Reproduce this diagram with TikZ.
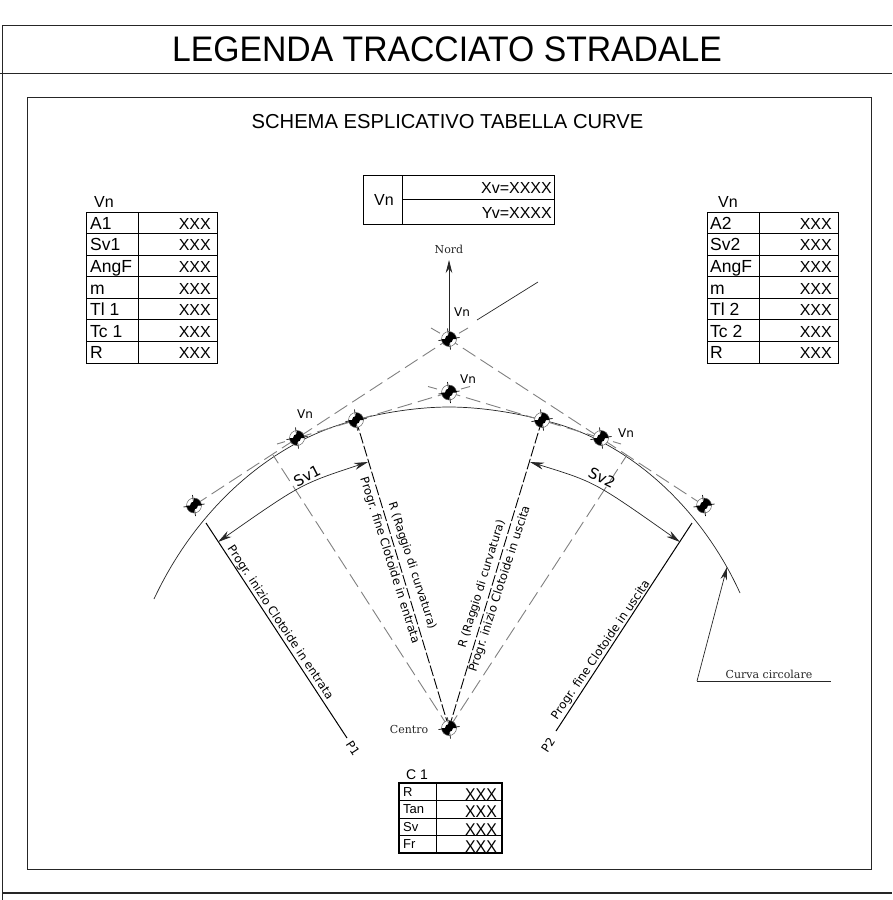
\documentclass[tikz,border=0pt]{standalone}
\usepackage{fontspec}
\setmainfont{Liberation Sans}
\newfontfamily\djs{DejaVu Sans}
\newfontfamily\djr{DejaVu Serif}
\usetikzlibrary{arrows.meta}
\newcommand{\fsz}[1]{\fontsize{#1}{#1}\selectfont}
\tikzset{
  x=1pt,y=-1pt,
  frame/.style={draw=black!85,line width=0.9pt},
  grid/.style={draw=black,line width=0.9pt},
  gd/.style={draw=black!50,line width=0.9pt,dash pattern=on 15pt off 6pt},
  gs/.style={draw=black!50,line width=0.9pt},
  bd/.style={draw=black,line width=0.9pt,dash pattern=on 11pt off 2.5pt},
  solid1/.style={draw=black,line width=1pt},
  thin1/.style={draw=black!85,line width=0.7pt},
  tip/.style={-{Stealth[length=13pt,width=6.5pt]}},
  tips/.style={{Stealth[length=14pt,width=7pt]}-{Stealth[length=14pt,width=7pt]}},
  mk/.style={circle,draw=black!60,line width=0.5pt,minimum size=15pt,inner sep=0pt,fill=white,
    path picture={
      \fill[black] (path picture bounding box.center) -- ++(-9,0) arc[start angle=180,end angle=90,radius=9] -- cycle;
      \fill[black] (path picture bounding box.center) -- ++(9,0) arc[start angle=0,end angle=-90,radius=9] -- cycle;
      \fill[black] (path picture bounding box.center) circle[radius=4];
    }},
  tb/.style={inner sep=0pt,anchor=base west,font=\fsz{17.5}},
  tv/.style={inner sep=0pt,anchor=base east,font=\fsz{16}},
  ctv/.style={inner sep=0pt,anchor=base east,font=\fsz{17}},
  rl/.style={inner sep=0pt,font=\djs\fsz{11.7}},
  rr/.style={inner sep=0pt,font=\djs\fsz{11.4}},
  vn/.style={inner sep=0pt,font=\djs\fsz{12}},
  sv/.style={inner sep=0pt,font=\djs\fsz{15}},
  sr/.style={inner sep=0pt,text=black!85,font=\djr\fsz{11}}
}
\newcommand{\mkr}[2]{%
  \node[mk] (#1) at (#2) {};
  \draw[black,line width=0.7pt] ([shift={(-1.5,-10.5)}]#1.center) -- ([shift={(1.5,10.5)}]#1.center);
  \draw[black,line width=0.7pt] ([shift={(-10.5,1.5)}]#1.center) -- ([shift={(10.5,-1.5)}]#1.center);
}
\begin{document}
\begin{tikzpicture}
\useasboundingbox (0,0) rectangle (892,900);
% frames
\draw[frame] (892,25) -- (2.5,25) -- (2.5,900);
\draw[frame] (0,73) -- (892,73);
\draw[frame,line width=1.1pt] (2.5,893) -- (892,893);
\draw[frame] (27,97.5) rectangle (871,869.5);
\node[inner sep=0pt,font=\fsz{35.5}] (title) at (447,49.5) {\scalebox{0.95}[1]{LEGENDA TRACCIATO STRADALE}};
\node[inner sep=0pt,font=\fsz{20.2}] (sub) at (447.5,122) {SCHEMA ESPLICATIVO TABELLA CURVE};

% top table
\draw[grid] (363,175) rectangle (554,224);
\draw[grid] (402,175) -- (402,224);
\draw[grid] (402,199.5) -- (554,199.5);
\node[inner sep=0pt,font=\fsz{16}] (tv) at (384,200) {Vn};
\node[tv] (tx) at (552,193) {Xv=XXXX};
\node[tv] (ty) at (552,218) {Yv=XXXX};

% left table
\node[tb,font=\fsz{16}] (lh) at (94,207) {Vn};
\draw[grid] (86,212) rectangle (217,363);
\draw[grid] (138,212) -- (138,363);
\foreach \i/\a/\v in {0/A1/XXX,1/Sv1/XXX,2/AngF/XXX,3/m/XXX,4/Tl 1/XXX,5/Tc 1/XXX,6/R/XXX}{
  \pgfmathsetmacro{\yb}{212+21.57*\i}
  \pgfmathsetmacro{\yt}{\yb+17.3}
  \ifnum\i>0 \draw[grid] (86,\yb) -- (217,\yb);\fi
  \node[tb] (la\i) at (90,\yt) {\a};
  \node[tv] (lv\i) at (211,\yt) {\v};
}
% right table
\node[tb,font=\fsz{16}] (rh) at (718,207) {Vn};
\draw[grid] (707,212) rectangle (838,363);
\draw[grid] (759,212) -- (759,363);
\foreach \i/\a/\v in {0/A2/XXX,1/Sv2/XXX,2/AngF/XXX,3/m/XXX,4/Tl 2/XXX,5/Tc 2/XXX,6/R/XXX}{
  \pgfmathsetmacro{\yb}{212+21.57*\i}
  \pgfmathsetmacro{\yt}{\yb+17.3}
  \ifnum\i>0 \draw[grid] (707,\yb) -- (838,\yb);\fi
  \node[tb] (ra\i) at (710,\yt) {\a};
  \node[tv] (rv\i) at (832,\yt) {\v};
}
% bottom table
\node[inner sep=0pt,font=\fsz{14}] (ch) at (417,775) {C 1};
\draw[grid,line width=1.1pt] (399,783) rectangle (502,853);
\draw[grid] (436,783) -- (436,853);
\foreach \i/\a/\v in {0/R/XXX,1/Tan/XXX,2/Sv/XXX,3/Fr/XXX}{
  \pgfmathsetmacro{\yb}{783+17.5*\i}
  \pgfmathsetmacro{\yt}{\yb+13}
  \pgfmathsetmacro{\yv}{\yb+17}
  \ifnum\i>0 \draw[grid] (399,\yb) -- (502,\yb);\fi
  \node[inner sep=0pt,anchor=base west,font=\fsz{13}] (ca\i) at (403,\yt) {\a};
  \node[ctv] (cv\i) at (497,\yv) {\scalebox{0.93}[1]{\v}};
}

% curve
\draw[thin1] (154,599) .. controls (198,505) and (275,440) .. (356,420)
  .. controls (385,412) and (420,407) .. (449,407)
  .. controls (478,407) and (513,412) .. (542,420)
  .. controls (625,438) and (700,505) .. (740,593);

% coordinates
\coordinate (rl) at (273,455);
\coordinate (rrr) at (627,455);
\coordinate (p1a) at (206,523);
\coordinate (p1b) at (347,738);
\coordinate (p2a) at (692,523);
\coordinate (p2b) at (556,731);
\coordinate (sa1) at (218,542);
\coordinate (sb1) at (368,462);
\coordinate (sa2) at (530,462);
\coordinate (sb2) at (680,542);
\coordinate (n1) at (449,260);
\coordinate (w1) at (477,320);
\coordinate (w2) at (538,282);
\coordinate (cc1) at (697,681);
\coordinate (cc2) at (727,567);
\coordinate (cc3) at (831,681);
\coordinate (ctr) at (449,728);
\coordinate (m1c) at (194,505.5);
\coordinate (m2c) at (297,438);
\coordinate (m3c) at (356,420);
\coordinate (m4c) at (449,339);
\coordinate (m5c) at (449,392.5);
\coordinate (m6c) at (542,420);
\coordinate (m7c) at (601,438);
\coordinate (m8c) at (704,505.5);

% dashed gray
\draw[gd] (m1c) -- (m4c);
\draw[gd] (m8c) -- (m4c);
\draw[gd] (m2c) -- (m5c);
\draw[gd] (m7c) -- (m5c);
\draw[gs] (431,328) -- (440,333.2);
\draw[gs] (468,328) -- (459,333.2);
\draw[gs] (428,386.5) -- (437,389);
\draw[gs] (470,386.5) -- (461,389);
\draw[gs] (277,444) -- (285,441.6);
\draw[gs] (621,444) -- (613,441.6);
\draw[gd] (ctr) -- (rl);
\draw[gd] (ctr) -- (rrr);
% black dashed
\draw[bd] (m3c) -- (ctr);
\draw[bd] (m6c) -- (ctr);
% P lines
\draw[solid1] (p1a) -- (p1b);
\draw[solid1] (p2a) -- (p2b);
% Sv arcs
\draw[thin1,tips] (sa1) .. controls (301,484) .. (sb1);
\draw[thin1,tips] (sa2) .. controls (595,482) .. (sb2);
% north
\draw[thin1,tip] (m4c) -- (n1);
\draw[thin1] (w1) -- (w2);
% curva circolare
\draw[thin1,tip] (cc1) -- (cc2);
\draw[thin1] (cc1) -- (cc3);

% markers
\mkr{m1}{194,505.5}
\mkr{m2}{297,438}
\mkr{m3}{356,420}
\mkr{m4}{449,339}
\mkr{m5}{449,392.5}
\mkr{m6}{542,420}
\mkr{m7}{601,438}
\mkr{m8}{704,505.5}
\mkr{m9}{449,728}

% labels
\node[sr] (nord) at (449,249) {Nord};
\node[sr] (centro) at (409,729) {Centro};
\node[sr] (cur) at (769,674) {Curva circolare};
\node[vn] (v_a) at (305,414) {Vn};
\node[vn] (v_b) at (462,312) {Vn};
\node[vn] (v_c) at (468,379) {Vn};
\node[vn] (v_d) at (626,433) {Vn};
\node[sv,rotate=27] (sv1) at (307,476) {Sv1};
\node[sv,rotate=-27] (sv2) at (602,478) {Sv2};
\node[rl,rotate=-56.5] (t1) at (280,623) {Progr. inizio Clotoide in entrata};
\node[rl,rotate=-72.4] (t2) at (389.5,560.5) {Progr. fine Clotoide in entrata};
\node[rr,rotate=-72] (t3) at (412,566) {R (Raggio di curvatura)};
\node[rr,rotate=72.7] (t4) at (482,584) {R (Raggio di curvatura)};
\node[rl,rotate=72] (t5) at (500,589) {Progr. inizio Clotoide in uscita};
\node[rl,rotate=55.8] (t6) at (601,650) {Progr. fine Clotoide in uscita};
\node[rl,rotate=-57] (pl1) at (353,748) {P1};
\node[rl,rotate=57] (pl2) at (548,745) {P2};
\end{tikzpicture}
\end{document}
